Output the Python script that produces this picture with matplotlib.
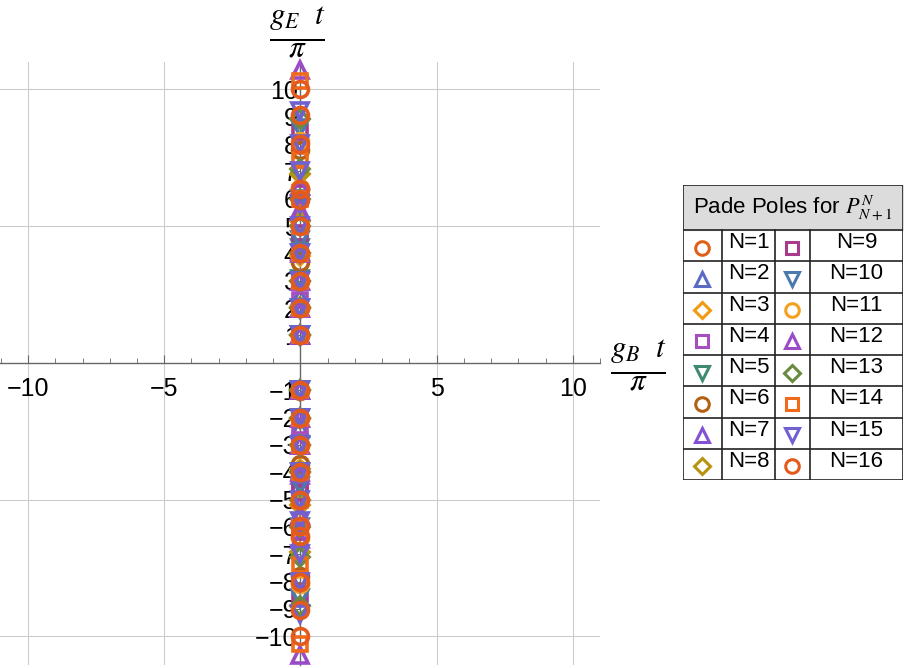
import matplotlib
matplotlib.use("Agg")
import matplotlib.pyplot as plt
import numpy as np

plt.rcParams['font.family'] = ['Liberation Sans', 'DejaVu Sans']
plt.rcParams['mathtext.fontset'] = 'stix'

# pole positions (imaginary part, in units of pi) for each Pade order N, mirrored +/-
labels = ["N=%d" % n for n in range(1, 17)]
poles = [
    [1.02],
    [1.0, 2.4],
    [1.0, 2.05, 3.9],
    [1.0, 2.3, 4.7],
    [1.0, 2.0, 3.05, 4.2],
    [1.0, 2.0, 3.0, 3.7, 7.8],
    [1.0, 2.0, 3.0, 4.1, 5.6],
    [1.0, 2.0, 3.0, 4.0, 5.2, 6.9],
    [1.0, 2.0, 3.0, 4.0, 4.75, 6.2, 8.45],
    [1.0, 2.0, 3.0, 4.0, 4.5, 6.0, 8.6],
    [1.0, 2.0, 3.0, 4.0, 5.0, 6.4, 8.1],
    [1.0, 2.0, 3.0, 4.0, 5.55, 6.45, 10.7],
    [1.0, 2.0, 3.0, 4.0, 5.0, 6.0, 7.1, 8.9],
    [1.0, 2.0, 3.0, 4.0, 5.0, 6.0, 7.4, 10.3],
    [1.0, 2.0, 3.0, 4.0, 5.0, 5.8, 7.0, 8.0, 9.2],
    [1.0, 2.0, 3.0, 4.0, 5.0, 5.95, 6.35, 8.0, 9.05, 10.0],
]
colors = ['#E0601A', '#5B6BC4', '#F29A10', '#A64DC0', '#3F8A74', '#B35F14',
          '#8450D4', '#B8940E', '#A83C8C', '#4A7AAE', '#F5A020', '#9A4CC8',
          '#6A8A40', '#F06A1A', '#7060D0', '#E45A1C']
markers = ['o', '^', 'D', 's', 'v', 'o', '^', 'D', 's', 'v', 'o', '^', 'D', 's', 'v', 'o']
msizes = {'o': 11.5, '^': 12, 'v': 12, 's': 10.5, 'D': 9.5}

W, H = 912, 668
fig = plt.figure(figsize=(W / 100, H / 100), dpi=100)
ax = fig.add_axes([0, (H - 665) / H, 600 / W, (665 - 62) / H])

for i in range(16):
    y = np.array(poles[i])
    y = np.concatenate([y, -y])
    ax.plot(np.zeros_like(y), y, linestyle='none', marker=markers[i],
            ms=msizes[markers[i]], mfc='none', mec=colors[i], mew=2.6,
            zorder=3 + i * 0.01, clip_on=False)

ax.set_xlim(-11.03, 10.95)
ax.set_ylim(-11.05, 11.0)
for v in [-10, -5, 5, 10]:
    ax.axvline(v, color='#cccccc', lw=0.8, zorder=0)
    ax.axhline(v, color='#cccccc', lw=0.8, zorder=0)

ax.spines['left'].set_position('zero')
ax.spines['bottom'].set_position('zero')
ax.spines['top'].set_visible(False)
ax.spines['right'].set_visible(False)
for s in ['left', 'bottom']:
    ax.spines[s].set_color('#666666')
    ax.spines[s].set_linewidth(1.0)

ax.set_xticks([-10, -5, 5, 10])
ax.set_xticks(np.arange(-11, 12, 1), minor=True)
ax.set_yticks([v for v in range(-10, 11) if v != 0])
ax.tick_params(axis='x', which='major', length=6, width=0.8, color='#666666',
               direction='in', labelsize=18, pad=10)
ax.tick_params(axis='x', which='minor', length=3.5, width=0.6, color='#666666',
               direction='in')
ax.tick_params(axis='y', which='major', length=3, width=0.8, color='#666666',
               direction='out', labelsize=18, pad=-1)
ax.set_facecolor('none')

fig.text(297 / W, 1 - 33 / H, r'$\frac{g_E\ \ t}{\pi}$', fontsize=32,
         ha='center', va='center')
fig.text(638 / W, 1 - 366 / H, r'$\frac{g_B\ \ t}{\pi}$', fontsize=32,
         ha='center', va='center')

# legend table
lx0, lx1, ly0, ly1 = 683, 903, 185, 480
lg = fig.add_axes([lx0 / W, 1 - ly1 / H, (lx1 - lx0) / W, (ly1 - ly0) / H])
lg.set_xlim(lx0, lx1)
lg.set_ylim(ly1, ly0)
lg.axis('off')
head = 230
lg.fill_between([lx0, lx1], ly0, head, color='#dcdcdc', zorder=0)
cols = [lx0, 722, 775, 810, lx1]
rowh = (ly1 - head) / 8
for x in cols:
    lg.plot([x, x], [head if x not in (lx0, lx1) else ly0, ly1], color='#222222', lw=1.2)
for k in range(9):
    yy = head + k * rowh
    lg.plot([lx0, lx1], [yy, yy], color='#222222', lw=1.2)
lg.plot([lx0, lx1], [ly0, ly0], color='#222222', lw=1.2)
lg.text((lx0 + lx1) / 2, (ly0 + head) / 2 + 1, r'Pade Poles for $P_{N+1}^{N}$',
        fontsize=16, ha='center', va='center')
for i in range(16):
    c = i // 8
    r = i % 8
    yc = head + (r + 0.5) * rowh
    xm = (cols[2 * c] + cols[2 * c + 1]) / 2
    xt = (cols[2 * c + 1] + cols[2 * c + 2]) / 2
    lg.plot([xm], [yc + 2], marker=markers[i], ms=msizes[markers[i]] * 0.85,
            mfc='none', mec=colors[i], mew=2.2, linestyle='none')
    lg.text(xt, yc - 3, labels[i], fontsize=16, ha='center', va='center')

fig.savefig('out.png', dpi=100)
